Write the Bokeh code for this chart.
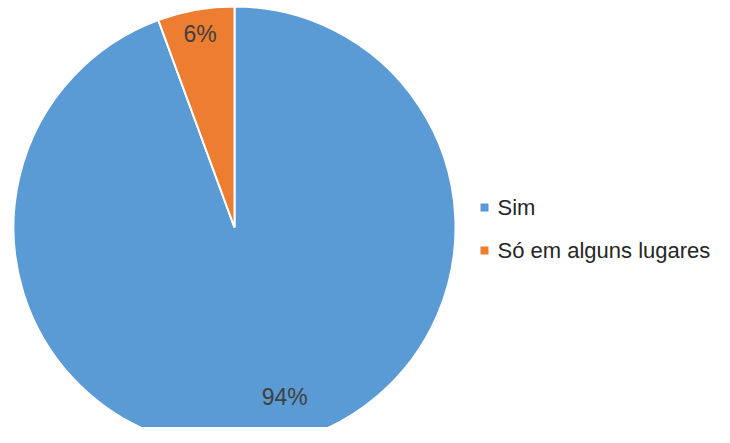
import math
from bokeh.plotting import figure
from bokeh.models import ColumnDataSource, Range1d
from bokeh.embed import file_html
from bokeh.resources import INLINE
from bokeh.core.properties import value

# ---- data ----
categories = ["Sim", "Só em alguns lugares"]
shares = [94.4, 5.6]
labels = ["94%", "6%"]

# ---- styles ----
colors = ["#5B9BD5", "#ED7D31"]
label_frac = [0.78, 0.89]
label_dx = [20, 0]
FONT = "Liberation Sans"

W, H = 714, 427
p = figure(width=W, height=H, output_backend="svg", toolbar_location=None,
           x_range=Range1d(0, W), y_range=Range1d(0, H), min_border=0)
p.axis.visible = False
p.grid.visible = False
p.outline_line_color = None
p.background_fill_color = "white"
p.border_fill_color = "white"

cx, cy, r = 234, H - 227, 221
total = sum(shares)
starts, ends, mids = [], [], []
cum = 0.0
for s in shares:
    a0 = math.pi / 2 - 2 * math.pi * cum / total
    cum += s
    a1 = math.pi / 2 - 2 * math.pi * cum / total
    starts.append(a0)
    ends.append(a1)
    mids.append((a0 + a1) / 2)

src = ColumnDataSource(dict(
    cat=categories, start=starts, end=ends, color=colors,
    lx=[cx + f * r * math.cos(m) + dx for f, m, dx in zip(label_frac, mids, label_dx)],
    ly=[cy + f * r * math.sin(m) for f, m in zip(label_frac, mids)],
    label=labels,
))

p.wedge(x=cx, y=cy, radius=r, start_angle="start", end_angle="end",
        direction="clock", fill_color="color", line_color="white",
        line_width=2, source=src)

p.text(x="lx", y="ly", text="label", source=src, text_align="center",
       text_baseline="middle", text_font=value(FONT), text_font_size="23px",
       text_color="#404040")

# legend
leg_x = 484
leg_y0 = H - 207
leg_step = 43
leg = ColumnDataSource(dict(
    x=[leg_x] * len(categories),
    y=[leg_y0 - leg_step * i for i in range(len(categories))],
    tx=[leg_x + 13] * len(categories),
    cat=categories, color=colors,
))
p.scatter(x="x", y="y", marker="square", size=8, fill_color="color",
          line_color=None, source=leg)
p.text(x="tx", y="y", text="cat", source=leg, text_align="left",
       text_baseline="middle", text_font=value(FONT), text_font_size="22px",
       text_color="#262626")

open("out.html", "w").write(file_html(p, INLINE))
